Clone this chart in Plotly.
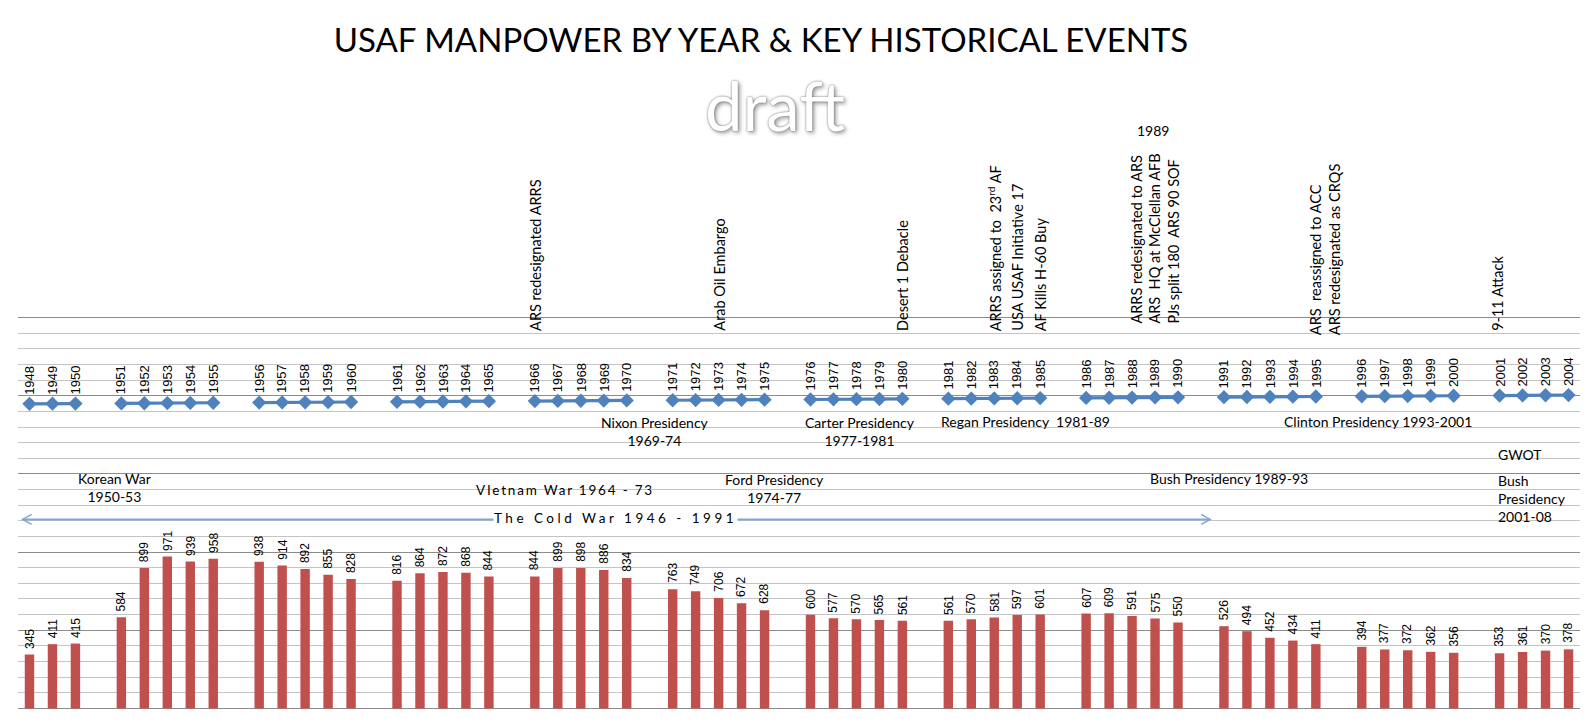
import plotly.graph_objects as go

# ---------------- data ----------------
title_text = "USAF MANPOWER BY YEAR & KEY HISTORICAL EVENTS"

years = [1948, 1949, 1950,
         1951, 1952, 1953, 1954, 1955,
         1956, 1957, 1958, 1959, 1960,
         1961, 1962, 1963, 1964, 1965,
         1966, 1967, 1968, 1969, 1970,
         1971, 1972, 1973, 1974, 1975,
         1976, 1977, 1978, 1979, 1980,
         1981, 1982, 1983, 1984, 1985,
         1986, 1987, 1988, 1989, 1990,
         1991, 1992, 1993, 1994, 1995,
         1996, 1997, 1998, 1999, 2000,
         2001, 2002, 2003, 2004]

# USAF manpower (thousands)
manpower_k = [345, 411, 415,
              584, 899, 971, 939, 958,
              938, 914, 892, 855, 828,
              816, 864, 872, 868, 844,
              844, 899, 898, 886, 834,
              763, 749, 706, 672, 628,
              600, 577, 570, 565, 561,
              561, 570, 581, 597, 601,
              607, 609, 591, 575, 550,
              526, 494, 452, 434, 411,
              394, 377, 372, 362, 356,
              353, 361, 370, 378]

# timeline series: plotted at the year's own value, labelled with the year
timeline_values = years

# years that begin a new block of the timeline (an empty slot precedes them)
group_starts = [1951, 1956, 1961, 1966, 1971, 1976, 1981, 1986, 1991, 1996, 2001]

# key events (rotated labels): text, slot position, bottom value
events = [
    ("ARS redesignated ARRS", 22.0, 2401),
    ("Arab Oil Embargo", 30.0, 2401),
    ("Desert 1 Debacle", 38.0, 2401),
    ("ARRS assigned to  23<sup>rd</sup> AF", 42.0, 2401),
    ("USA USAF Initiative 17", 43.0, 2401),
    ("AF Kills H-60 Buy", 44.0, 2401),
    ("ARRS redesignated to ARS<br>ARS  HQ at McClellan AFB<br>PJs split 180  ARS 90 SOF", 49.0, 2449),
    ("ARS  reassigned to ACC<br>ARS redesignated as CRQS", 56.4, 2375),
    ("9-11 Attack", 63.9, 2401),
]

# horizontal period labels: text, slot position, value, x-anchor
periods = [
    ("Nixon Presidency<br>1969-74", 27.23, 1773, "center"),
    ("Carter Presidency<br>1977-1981", 36.15, 1773, "center"),
    ("Regan Presidency  1981-89", 43.35, 1834, "center"),
    ("Clinton Presidency 1993-2001", 58.7, 1834, "center"),
    ("Korean War<br>1950-53", 3.7, 1415, "center"),
    ("Ford Presidency<br>1974-77", 32.45, 1408, "center"),
    ("Bush Presidency 1989-93", 52.2, 1469, "center"),
    ("GWOT", 63.85, 1626, "left"),
    ("Bush<br>Presidency<br>2001-08", 63.85, 1341, "left"),
]

# letter-spaced labels: text, slot, value, spacing(px), white background
spaced_labels = [
    ("VIetnam War 1964 - 73", 23.31, 1399, 1.8, False),
    ("The Cold War 1946 - 1991", 25.5, 1215, 3.5, True),
]

cold_war_span = (-0.3, 51.4, 1209)   # arrow start slot, end slot, value
header_1989 = ("1989", 48.9)

# ---------------- layout helpers ----------------
slot_of = {}
k = 0
for yr in years:
    if yr in group_starts:
        k += 1
    slot_of[yr] = k
    k += 1

bar_x = [slot_of[y] for y in years]

line_x, line_y = [], []
for yr, v in zip(years, timeline_values):
    if yr in group_starts:
        line_x.append(None)
        line_y.append(None)
    line_x.append(slot_of[yr])
    line_y.append(v)

RED = "#c0504d"
BLUE = "#4f81bd"
CAL = "Lato, 'Open Sans', sans-serif"
ARIAL = "'Liberation Sans', Arial, sans-serif"

fig = go.Figure()

fig.add_trace(go.Bar(
    x=bar_x, y=manpower_k, marker=dict(color=RED, line=dict(width=0)),
    width=0.41, showlegend=False, hoverinfo="skip",
))

fig.add_trace(go.Scatter(
    x=line_x, y=line_y, mode="lines+markers",
    line=dict(color=BLUE, width=3.2),
    marker=dict(symbol="diamond", size=11, color=BLUE),
    connectgaps=False, showlegend=False, hoverinfo="skip", cliponaxis=False,
))

annotations = []

# bar value labels
for yr, v in zip(years, manpower_k):
    annotations.append(dict(
        x=slot_of[yr], y=v, xref="x", yref="y", text=str(v), showarrow=False,
        textangle=-90, xanchor="center", yanchor="bottom", yshift=4,
        font=dict(family=ARIAL, size=12, color="#000"),
    ))

# year labels above the timeline markers
for yr, v in zip(years, timeline_values):
    annotations.append(dict(
        x=slot_of[yr], y=v, xref="x", yref="y", text=str(yr), showarrow=False,
        textangle=-90, xanchor="center", yanchor="bottom", yshift=7,
        font=dict(family=ARIAL, size=13, color="#000"),
    ))

# events
for txt, xs, yv in events:
    annotations.append(dict(
        x=xs, y=yv, xref="x", yref="y", text=txt, showarrow=False,
        textangle=-90, xanchor="center", yanchor="bottom", align="left",
        font=dict(family=CAL, size=14.5, color="#000"),
    ))

# periods
for txt, xs, yv, anc in periods:
    annotations.append(dict(
        x=xs, y=yv, xref="x", yref="y", text=txt, showarrow=False,
        xanchor=anc, yanchor="middle", align=anc,
        font=dict(family=CAL, size=14, color="#000"),
    ))

for txt, xs, yv, sp, bg in spaced_labels:
    annotations.append(dict(
        x=xs, y=yv, xref="x", yref="y",
        text='<span style="letter-spacing:%.1fpx">%s</span>' % (sp, txt),
        showarrow=False, xanchor="center", yanchor="middle",
        bgcolor="white" if bg else "rgba(0,0,0,0)", borderpad=0,
        font=dict(family=CAL, size=13.5, color="#000"),
    ))

# "1989" header above the 1989 events (outside axis range -> paper y)
annotations.append(dict(
    x=header_1989[1], y=1.472, xref="x", yref="paper", text=header_1989[0],
    showarrow=False, xanchor="center", yanchor="middle",
    font=dict(family=CAL, size=14, color="#000"),
))

# draft watermark
annotations.append(dict(
    x=0.4846, y=1.5355, xref="paper", yref="paper", text="draft", showarrow=False,
    xanchor="center", yanchor="middle",
    font=dict(family=CAL, size=67, color="white", weight=400,
              shadow="0px 0px 2px #666, 2px 2px 4px #999"),
))

# Cold War arrow
x0, x1, yv = cold_war_span
ARROW = "#86a5d6"
shapes = [
    dict(type="line", xref="x", yref="y", x0=x0, x1=x1, y0=yv, y1=yv,
         line=dict(color=ARROW, width=2), layer="above"),
    dict(type="path", xref="x", yref="y", xsizemode="pixel", ysizemode="pixel",
         xanchor=x0, yanchor=yv, path="M 9,5 L 0,0 L 9,-5",
         line=dict(color=ARROW, width=1.5), layer="above"),
    dict(type="path", xref="x", yref="y", xsizemode="pixel", ysizemode="pixel",
         xanchor=x1, yanchor=yv, path="M -9,5 L 0,0 L -9,-5",
         line=dict(color=ARROW, width=1.5), layer="above"),
]

fig.update_layout(
    width=1594, height=719,
    paper_bgcolor="white", plot_bgcolor="white",
    margin=dict(l=10, r=22, t=308, b=17),
    title=dict(text=title_text, x=0.4724, xref="container", xanchor="center",
               y=0.9555, yref="container", yanchor="middle",
               font=dict(family=CAL, size=33, color="#000")),
    xaxis=dict(range=[-0.5, 67.5], showgrid=False, zeroline=False,
               showticklabels=False, ticks="", showline=False, fixedrange=True),
    yaxis=dict(range=[-10, 2510], tick0=0, dtick=500, showgrid=True,
               gridcolor="#8c8c8c", gridwidth=1, zeroline=False,
               showticklabels=False, ticks="", showline=False,
               minor=dict(tick0=0, dtick=100, showgrid=True, gridcolor="#c4c4c4",
                          gridwidth=1)),
    annotations=annotations,
    shapes=shapes,
    showlegend=False,
)

fig.write_html("out.html")
